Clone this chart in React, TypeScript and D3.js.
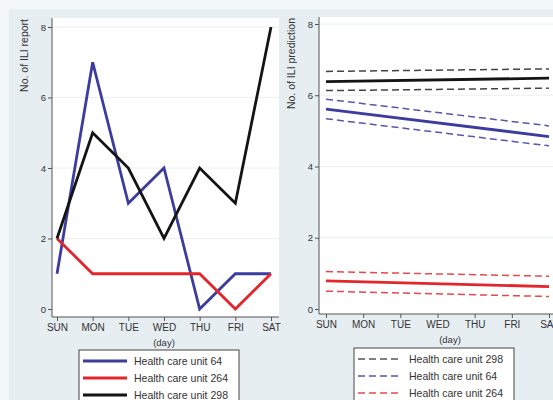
import React, { useEffect, useRef } from 'react';
import * as d3 from 'd3';

const days = ['SUN', 'MON', 'TUE', 'WED', 'THU', 'FRI', 'SAT'];
const yTicks = [0, 2, 4, 6, 8];

// left panel: observed ILI reports
const unit64 = [1, 7, 3, 4, 0, 1, 1];
const unit264 = [2, 1, 1, 1, 1, 0, 1];
const unit298 = [2, 5, 4, 2, 4, 3, 8];

// right panel: fitted lines (SUN, SAT) with upper / lower bands
const pred298 = [6.38, 6.48];
const pred298Hi = [6.67, 6.74];
const pred298Lo = [6.13, 6.2];
const pred64 = [5.61, 4.84];
const pred64Hi = [5.89, 5.14];
const pred64Lo = [5.34, 4.58];
const pred264 = [0.79, 0.63];
const pred264Hi = [1.05, 0.92];
const pred264Lo = [0.5, 0.35];

const leftLegend = ['Health care unit 64', 'Health care unit 264', 'Health care unit 298'];
const rightLegend = ['Health care unit 298', 'Health care unit 64', 'Health care unit 264'];

const BLUE = '#3b3c9e';
const RED = '#e3262b';
const BLACK = '#141414';
const AXIS = '#555';
const FONT = '"Liberation Sans", Arial, sans-serif';

export default function App() {
  const svgRef = useRef<SVGSVGElement>(null);

  useEffect(() => {
    if (!svgRef.current) return;
    const svg = d3.select(svgRef.current);
    svg.selectAll('*').remove();

    svg.append('rect').attr('width', 553).attr('height', 400).attr('fill', '#f4f7f9');
    svg.append('rect').attr('x', 9).attr('y', 9).attr('width', 544).attr('height', 391).attr('fill', '#e7eef2');

    const panel = (opts: {
      left: number; right: number; top: number; axisY: number;
      xRange: [number, number]; yRange: [number, number]; title: string; dayX: number;
    }) => {
      const g = svg.append('g');
      g.append('rect')
        .attr('x', opts.left).attr('y', opts.top)
        .attr('width', opts.right - opts.left).attr('height', opts.axisY - opts.top)
        .attr('fill', '#fff');

      const x = d3.scalePoint<string>().domain(days).range(opts.xRange);
      const y = d3.scaleLinear().domain([0, 8]).range(opts.yRange);

      // faint grid
      g.selectAll('line.grid').data(yTicks.slice(1)).enter().append('line')
        .attr('x1', opts.left).attr('x2', opts.right)
        .attr('y1', d => y(d)).attr('y2', d => y(d))
        .attr('stroke', '#eaf0f3').attr('stroke-width', 1);

      const xAxis = g.append('g')
        .attr('transform', `translate(0,${opts.axisY})`)
        .call(d3.axisBottom(x).tickSize(4).tickPadding(3));
      xAxis.select('.domain').attr('d', `M${opts.left},0H${opts.right}`).attr('stroke', AXIS);
      xAxis.selectAll('line').attr('stroke', AXIS);
      xAxis.selectAll('text').attr('font-family', FONT).attr('font-size', 10).attr('fill', '#333');

      const yAxis = g.append('g')
        .attr('transform', `translate(${opts.left},0)`)
        .call(d3.axisLeft(y).tickValues(yTicks).tickSize(4).tickPadding(2));
      yAxis.select('.domain').attr('d', `M0,${opts.top}V${opts.axisY}`).attr('stroke', AXIS);
      yAxis.selectAll('line').attr('stroke', AXIS);
      yAxis.selectAll('text').attr('font-family', FONT).attr('font-size', 9.5).attr('fill', '#333');

      g.append('text')
        .attr('transform', `translate(${opts.left - 24},${opts.top + 1}) rotate(-90)`)
        .attr('text-anchor', 'end')
        .attr('font-family', FONT).attr('font-size', 10.5).attr('fill', '#333')
        .text(opts.title);

      g.append('text')
        .attr('x', opts.dayX).attr('y', opts.axisY + 29)
        .attr('text-anchor', 'middle')
        .attr('font-family', FONT).attr('font-size', 9.5).attr('fill', '#333')
        .text('(day)');

      return { g, x, y };
    };

    // left panel
    const L = panel({ left: 52, right: 279, top: 18, axisY: 317, xRange: [57, 271], yRange: [309, 27], title: 'No. of ILI report', dayX: 164 });
    const lineL = d3.line<number>().x((_, i) => L.x(days[i])!).y(d => L.y(d));
    [[unit64, BLUE], [unit264, RED], [unit298, BLACK]].forEach(([vals, col]) => {
      L.g.append('path').attr('d', lineL(vals as number[])).attr('fill', 'none')
        .attr('stroke', col as string).attr('stroke-width', 2.8).attr('stroke-linejoin', 'miter');
    });

    // right panel
    const R = panel({ left: 319, right: 560, top: 17, axisY: 314, xRange: [326, 549], yRange: [309, 24], title: 'No. of ILI prediction', dayX: 450 });
    const ends = [days[0], days[days.length - 1]];
    const lineR = d3.line<number>().x((_, i) => R.x(ends[i])!).y(d => R.y(d));
    const rightLines: [number[], string, boolean][] = [
      [pred298Hi, '#444', true], [pred298Lo, '#444', true], [pred298, BLACK, false],
      [pred64Hi, '#5657ad', true], [pred64Lo, '#5657ad', true], [pred64, BLUE, false],
      [pred264Hi, '#e8474b', true], [pred264Lo, '#e8474b', true], [pred264, RED, false],
    ];
    rightLines.forEach(([vals, col, dashed]) => {
      R.g.append('path').attr('d', lineR(vals)).attr('fill', 'none')
        .attr('stroke', col).attr('stroke-width', dashed ? 1.5 : 2.8)
        .attr('stroke-dasharray', dashed ? '7,4' : null);
    });

    // legends
    const legend = (x0: number, y0: number, labels: string[], cols: string[], dashed: boolean) => {
      const g = svg.append('g');
      g.append('rect').attr('x', x0).attr('y', y0).attr('width', 160).attr('height', 60)
        .attr('fill', '#fff').attr('stroke', '#444').attr('stroke-width', 1);
      labels.forEach((lab, i) => {
        const yy = y0 + 11 + i * 17;
        g.append('line').attr('x1', x0 + 4).attr('x2', x0 + (dashed ? 46 : 48))
          .attr('y1', yy).attr('y2', yy).attr('stroke', cols[i])
          .attr('stroke-width', dashed ? 1.5 : 2.8)
          .attr('stroke-dasharray', dashed ? '7,4' : null);
        g.append('text').attr('x', x0 + 55).attr('y', yy + 3.5)
          .attr('font-family', FONT).attr('font-size', 10.5).attr('fill', '#333')
          .text(lab);
      });
    };
    legend(79, 350, leftLegend, [BLUE, RED, BLACK], false);
    legend(354, 348, rightLegend, ['#555', '#5657ad', '#e8474b'], true);
  }, []);

  return (
    <svg ref={svgRef} width={553} height={400}
      style={{ position: 'absolute', left: 0, top: 0, display: 'block' }} />
  );
}
